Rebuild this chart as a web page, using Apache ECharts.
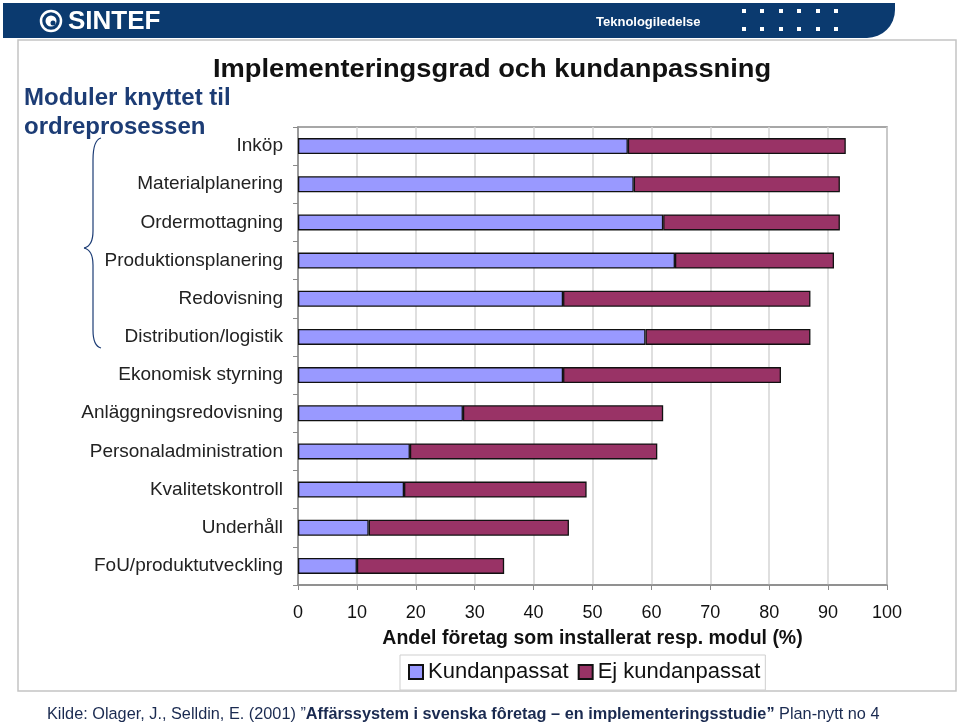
<!DOCTYPE html>
<html>
<head>
<meta charset="utf-8">
<script src="https://cdn.jsdelivr.net/npm/echarts@6/dist/echarts.min.js"></script>
<style>html,body{margin:0;padding:0;background:#fff}#c{width:960px;height:725px}</style>
</head>
<body>
<div id="c"></div>
<script>
var categories = ["Inköp","Materialplanering","Ordermottagning","Produktionsplanering","Redovisning","Distribution/logistik","Ekonomisk styrning","Anläggningsredovisning","Personaladministration","Kvalitetskontroll","Underhåll","FoU/produktutveckling"];
var kundanpassat = [56,57,62,64,45,59,45,28,19,18,12,10];
var ejKundanpassat = [37,35,30,27,42,28,37,34,42,31,34,25];
var xTicks = [0,10,20,30,40,50,60,70,80,90,100];

var chart = echarts.init(document.getElementById('c'), null, {renderer:'canvas'});
var font = 'Liberation Sans, Arial, sans-serif';
var navy = '#0B3A6F';
var braceColor = '#1C3C75';
var dots = [];
[744,762,781,799,818,836].forEach(function(x){
  [11,29].forEach(function(y){
    dots.push({type:'rect', shape:{x:x-2,y:y-2,width:4,height:4}, style:{fill:'#fff'}});
  });
});
function qc(x1,y1,cx,cy,x2,y2){
  return {type:'bezierCurve', shape:{x1:x1,y1:y1,cpx1:cx,cpy1:cy,x2:x2,y2:y2}, style:{fill:'none', stroke:braceColor, lineWidth:1.2}};
}
function ln(x1,y1,x2,y2){
  return {type:'line', shape:{x1:x1,y1:y1,x2:x2,y2:y2}, style:{stroke:braceColor, lineWidth:1.2}};
}
var brace = [
  qc(101,138,93,140,93,160), ln(93,160,93,231),
  qc(93,231,93,246,84,248), qc(84,248,93,250,93,265),
  ln(93,265,93,330), qc(93,330,93,346,101,348)
];
chart.setOption({
  backgroundColor:'#fff',
  animation:false,
  textStyle:{fontFamily:font},
  grid:{left:298, right:73, top:127, bottom:140, show:true, borderColor:'#8a8a8a', borderWidth:1.5, backgroundColor:'#fff'},
  xAxis:{
    type:'value', min:0, max:100, interval:10,
    name:'Andel företag som installerat resp. modul (%)',
    nameLocation:'middle', nameGap:44,
    nameTextStyle:{fontSize:19.5, fontWeight:'bold', color:'#111', fontFamily:font},
    axisLine:{show:true, lineStyle:{color:'#8a8a8a', width:1.5}},
    axisTick:{show:true, length:5, lineStyle:{color:'#8a8a8a'}},
    axisLabel:{fontSize:18, color:'#111', margin:19, fontFamily:font,
      formatter:function(v){ return xTicks.indexOf(v) >= 0 ? String(v) : ''; }},
    splitLine:{show:true, lineStyle:{color:'#d4d4d4', width:1.5}}
  },
  yAxis:{
    type:'category', data:categories, inverse:true,
    axisLine:{show:true, lineStyle:{color:'#8a8a8a', width:1.5}},
    axisTick:{show:true, length:5, alignWithLabel:false, lineStyle:{color:'#8a8a8a'}},
    axisLabel:{fontSize:19, color:'#222', margin:15, fontFamily:font},
    splitLine:{show:false}
  },
  legend:{
    left:400, top:655, orient:'horizontal',
    itemWidth:14, itemHeight:14, itemGap:9,
    padding:[6,5,7,8],
    backgroundColor:'#fff', borderColor:'#cfcfcf', borderWidth:1,
    textStyle:{fontSize:22, color:'#111', fontFamily:font},
    icon:'rect',
    data:['Kundanpassat','Ej kundanpassat']
  },
  series:[
    {name:'Kundanpassat', type:'bar', stack:'t', data:kundanpassat, barWidth:16,
      itemStyle:{color:'#9999FF', borderColor:'#111', borderWidth:1.3}},
    {name:'Ej kundanpassat', type:'bar', stack:'t', data:ejKundanpassat, barWidth:16,
      itemStyle:{color:'#993366', borderColor:'#111', borderWidth:1.3}}
  ],
  graphic:[
    {type:'rect', z:-10, shape:{x:18,y:40,width:938,height:651}, style:{fill:'none', stroke:'#c4c4c4', lineWidth:1.5}},
    {type:'rect', shape:{x:3,y:3,width:892,height:35, r:[0,0,28,0]}, style:{fill:navy}},
    {type:'circle', shape:{cx:51,cy:21,r:10}, style:{fill:'none', stroke:'#fff', lineWidth:2.5}},
    {type:'circle', shape:{cx:51,cy:21,r:5.5}, style:{fill:'#fff'}},
    {type:'circle', shape:{cx:53,cy:23,r:2.5}, style:{fill:navy}},
    {type:'text', x:68, y:9, style:{text:'SINTEF', fill:'#fff', font:'bold 26px '+font}},
    {type:'text', x:596, y:16, style:{text:'Teknologiledelse', fill:'#fff', font:'bold 13px '+font}},
    {type:'text', x:213, y:57, scaleX:1.05, style:{text:'Implementeringsgrad och kundanpassning', fill:'#111', font:'bold 26px '+font}},
    {type:'text', x:24, y:86, style:{text:'Moduler knyttet til', fill:braceColor, font:'bold 24px '+font}},
    {type:'text', x:24, y:115, style:{text:'ordreprosessen', fill:braceColor, font:'bold 24px '+font}},
    {type:'text', x:47, y:707, style:{
      text:'{n|Kilde: Olager, J., Selldin, E. (2001) ”}{b|Affärssystem i svenska fôretag – en implementeringsstudie”}{n| Plan-nytt no 4}',
      rich:{n:{fontSize:16.3, fontFamily:font, fill:'#1a2a50', fontWeight:'normal'}, b:{fontSize:16.3, fontFamily:font, fill:'#1a2a50', fontWeight:'bold'}}
    }}
  ].concat(dots).concat(brace)
});
</script>
</body>
</html>
